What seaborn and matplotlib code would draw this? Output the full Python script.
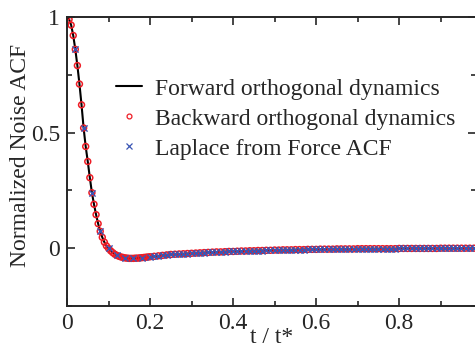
import numpy as np
import pandas as pd
import matplotlib
matplotlib.use("Agg")
import matplotlib.pyplot as plt
from matplotlib.lines import Line2D
from matplotlib.ticker import MultipleLocator
import seaborn as sns

# time grid (t / t*) and normalized noise ACF
t_early = [0.000, 0.005, 0.010, 0.015, 0.020, 0.025, 0.030, 0.035, 0.040, 0.045,
           0.050, 0.055, 0.060, 0.065, 0.070, 0.075, 0.080, 0.085, 0.090, 0.095,
           0.100, 0.105, 0.110, 0.115, 0.120, 0.125, 0.130, 0.135, 0.140, 0.145,
           0.150, 0.155, 0.160, 0.165, 0.170, 0.175, 0.180, 0.185, 0.190, 0.195]
acf_early = [1.000, 0.990, 0.965, 0.920, 0.860, 0.790, 0.710, 0.620, 0.520, 0.440,
             0.375, 0.305, 0.240, 0.190, 0.145, 0.106, 0.073, 0.047, 0.026, 0.010,
             -0.001, -0.011, -0.019, -0.026, -0.031, -0.035, -0.038, -0.040, -0.042, -0.043,
             -0.044, -0.044, -0.044, -0.043, -0.043, -0.042, -0.041, -0.040, -0.039, -0.038]
t_late = [0.20, 0.21, 0.22, 0.23, 0.24, 0.25, 0.26, 0.27, 0.28, 0.29,
          0.30, 0.31, 0.32, 0.33, 0.34, 0.35, 0.36, 0.37, 0.38, 0.39,
          0.40, 0.41, 0.42, 0.43, 0.44, 0.45, 0.46, 0.47, 0.48, 0.49,
          0.50, 0.51, 0.52, 0.53, 0.54, 0.55, 0.56, 0.57, 0.58, 0.59,
          0.60, 0.61, 0.62, 0.63, 0.64, 0.65, 0.66, 0.67, 0.68, 0.69,
          0.70, 0.71, 0.72, 0.73, 0.74, 0.75, 0.76, 0.77, 0.78, 0.79,
          0.80, 0.81, 0.82, 0.83, 0.84, 0.85, 0.86, 0.87, 0.88, 0.89,
          0.90, 0.91, 0.92, 0.93, 0.94, 0.95, 0.96, 0.97, 0.98]
acf_late = [-0.037, -0.035, -0.033, -0.031, -0.029, -0.027, -0.026, -0.025, -0.024, -0.023,
            -0.022, -0.021, -0.020, -0.019, -0.018, -0.017, -0.016, -0.016, -0.015, -0.014,
            -0.014, -0.013, -0.012, -0.012, -0.011, -0.011, -0.010, -0.010, -0.009, -0.009,
            -0.008, -0.008, -0.007, -0.007, -0.007, -0.006, -0.006, -0.006, -0.005, -0.005,
            -0.005, -0.004, -0.004, -0.004, -0.004, -0.003, -0.003, -0.003, -0.003, -0.003,
            -0.002, -0.002, -0.002, -0.002, -0.002, -0.002, -0.002, -0.002, -0.002, -0.002,
            -0.001, -0.001, -0.001, -0.001, -0.001, -0.001, -0.001, -0.001, -0.001, -0.001,
            0.000, 0.000, 0.000, 0.000, 0.000, 0.000, 0.000, 0.000, 0.000]

labels = ["Forward orthogonal dynamics", "Backward orthogonal dynamics", "Laplace from Force ACF"]
x_ticks = [0, 0.2, 0.4, 0.6, 0.8]
x_tick_labels = ["0", "0.2", "0.4", "0.6", "0.8"]
y_ticks = [0, 0.5, 1]
y_tick_labels = ["0", "0.5", "1"]

t_all = t_early + t_late
acf_all = acf_early + acf_late
forward = pd.DataFrame({"t": t_all, "acf": acf_all})
backward = pd.DataFrame({"t": t_all, "acf": acf_all})
# Laplace points: every 0.02 early on, then every 0.01
lap_t = t_early[4::4] + t_late
lap_acf = acf_early[4::4] + acf_late
laplace = pd.DataFrame({"t": lap_t, "acf": lap_acf})

sns.set_style("ticks")
plt.rcParams["font.family"] = ["Liberation Serif", "DejaVu Serif"]

fig = plt.figure(figsize=(4.75, 3.48), dpi=100)
ax = fig.add_axes([67 / 475, 1 - 306 / 348, 409 / 475, 289 / 348])

sns.lineplot(data=forward, x="t", y="acf", color="black", linewidth=1.5, ax=ax, zorder=1)
sns.scatterplot(data=backward, x="t", y="acf", marker="o", s=18, facecolor="none",
                edgecolor="#ee1c25", linewidth=1.1, ax=ax, zorder=2)
sns.scatterplot(data=laplace, x="t", y="acf", marker="x", s=20, color="#3a55b4",
                linewidth=1.0, ax=ax, zorder=3)

ax.set_xlim(0, 0.985)
ax.set_ylim(-0.25, 1.0)
ax.set_xticks(x_ticks)
ax.set_xticklabels(x_tick_labels)
ax.set_yticks(y_ticks)
ax.set_yticklabels(y_tick_labels)
ax.xaxis.set_minor_locator(MultipleLocator(0.1))
ax.yaxis.set_minor_locator(MultipleLocator(0.25))
ax.tick_params(which="both", direction="in", top=True, right=True, width=1.2, labelsize=17, pad=5)
ax.tick_params(which="major", length=6)
ax.tick_params(which="minor", length=3.5)
for sp in ax.spines.values():
    sp.set_linewidth(1.4)

ax.set_xlabel("t / t*", fontsize=17)
ax.set_ylabel("Normalized Noise ACF", fontsize=17)
ax.xaxis.set_label_coords(0.5, -0.072)
ax.yaxis.set_label_coords(-0.088, 0.52)

handles = [
    Line2D([], [], color="black", linewidth=1.5),
    Line2D([], [], linestyle="none", marker="o", markersize=3.5, markerfacecolor="none",
           markeredgecolor="#ee1c25", markeredgewidth=0.9),
    Line2D([], [], linestyle="none", marker="x", markersize=3.8, color="#3a55b4",
           markeredgewidth=0.9),
]
fig.legend(handles, labels, loc="upper left", bbox_to_anchor=(116 / 475, 1 - 78 / 348),
           frameon=False, fontsize=17, handlelength=1.1, handletextpad=0.55,
           labelspacing=0.36, borderpad=0, borderaxespad=0)

fig.savefig("out.png", dpi=100)
